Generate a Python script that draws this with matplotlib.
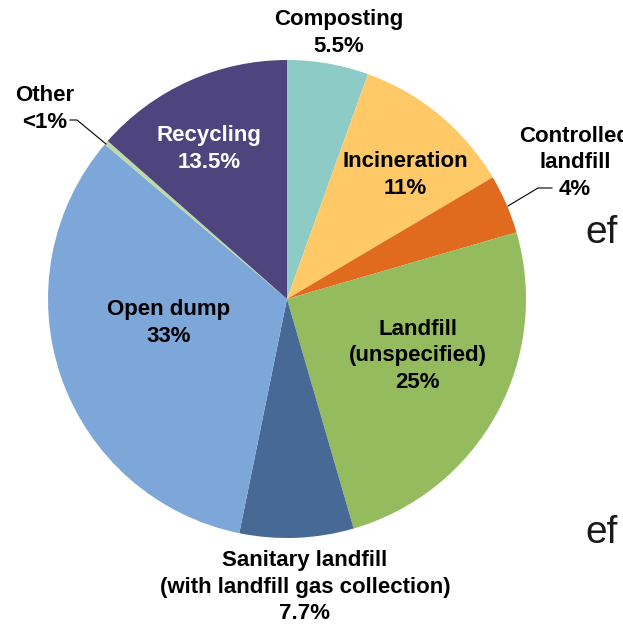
import matplotlib.pyplot as plt

plt.rcParams['font.family'] = ['Liberation Sans', 'DejaVu Sans']

labels = ['Composting', 'Incineration', 'Controlled\nlandfill', 'Landfill\n(unspecified)',
          'Sanitary landfill\n(with landfill gas collection)', 'Open dump', 'Other', 'Recycling']
shares = [5.5, 11, 4, 25, 7.7, 33, 0.3, 13.5]
share_text = ['5.5%', '11%', '4%', '25%', '7.7%', '33%', '<1%', '13.5%']
colors = ['#8ccbc6', '#ffc967', '#e06b1f', '#94bb5e', '#466a95', '#7da7d9', '#bddaa6', '#4e457f']

W, H = 623, 624
fig = plt.figure(figsize=(W / 100, H / 100), dpi=100)
ax = fig.add_axes([0, 0, 1, 1])

cx, cy, r = 287, H - 299, 239
ax.pie(shares, colors=colors, startangle=90, counterclock=False,
       center=(cx, cy), radius=r, wedgeprops=dict(linewidth=0))
ax.set_xlim(0, W)
ax.set_ylim(0, H)
ax.set_aspect('equal')
ax.axis('off')

# label positions in pixels (x, y of text centre), with text colour
spots = {
    0: (339, 33, 'black'),
    1: (405, 175, 'black'),
    2: (575, 163, 'black'),
    3: (418, 356, 'black'),
    4: (305, 587, 'black'),
    5: (169, 323, 'black'),
    6: (45, 109, 'black'),
    7: (209, 149, 'white'),
}
for i, (x, y, c) in spots.items():
    ax.text(x, H - y, labels[i] + '\n' + share_text[i], ha='center', va='center',
            fontsize=16, fontweight='bold', color=c, linespacing=1.34)

# leader lines for the thin slices
ax.plot([508, 538, 552], [H - 206, H - 188, H - 188], color='black', lw=0.8)
ax.plot([70, 77, 106], [H - 120, H - 120, H - 144], color='black', lw=0.8)

for y in (243, 543):
    ax.text(585, H - y, 'ef', fontsize=28, color='#1a1a1a', va='baseline', ha='left')

fig.savefig('out.png', dpi=100)
